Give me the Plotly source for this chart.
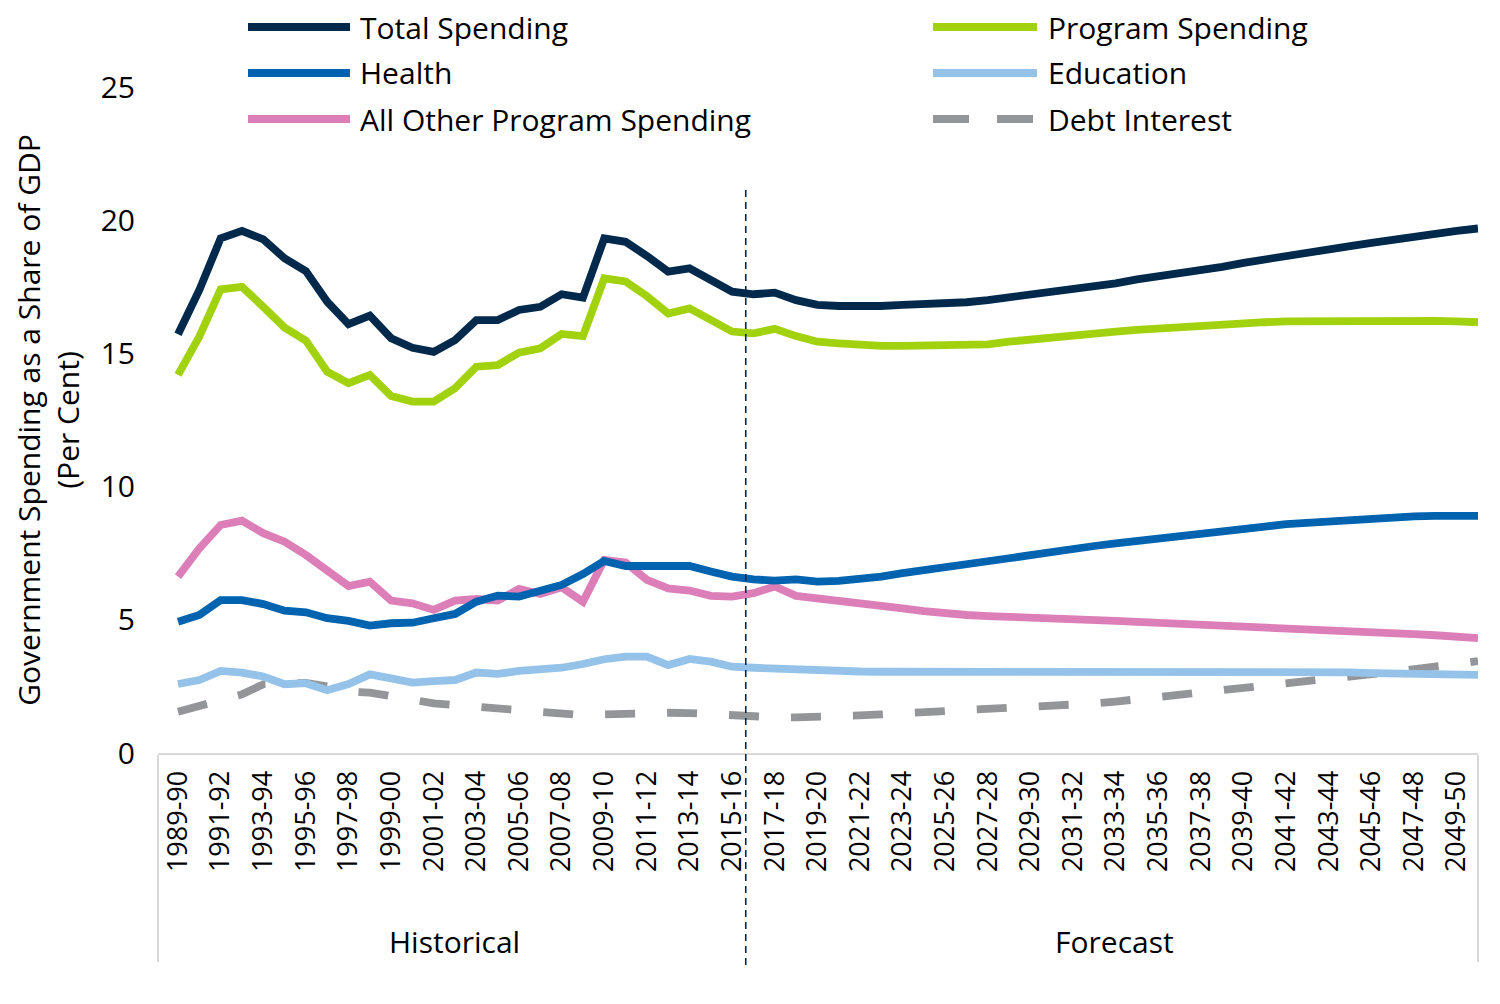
import plotly.graph_objects as go

years = [
    "1989-90", "1990-91", "1991-92", "1992-93", "1993-94", "1994-95", "1995-96", "1996-97",
    "1997-98", "1998-99", "1999-00", "2000-01", "2001-02", "2002-03", "2003-04", "2004-05",
    "2005-06", "2006-07", "2007-08", "2008-09", "2009-10", "2010-11", "2011-12", "2012-13",
    "2013-14", "2014-15", "2015-16", "2016-17", "2017-18", "2018-19", "2019-20", "2020-21",
    "2021-22", "2022-23", "2023-24", "2024-25", "2025-26", "2026-27", "2027-28", "2028-29",
    "2029-30", "2030-31", "2031-32", "2032-33", "2033-34", "2034-35", "2035-36", "2036-37",
    "2037-38", "2038-39", "2039-40", "2040-41", "2041-42", "2042-43", "2043-44", "2044-45",
    "2045-46", "2046-47", "2047-48", "2048-49", "2049-50", "2050-51",
]

total_spending = [
    15.72, 17.38, 19.32, 19.60, 19.28, 18.57, 18.09, 16.94, 16.10, 16.42,
    15.57, 15.21, 15.06, 15.50, 16.25, 16.25, 16.63, 16.75, 17.22, 17.09,
    19.32, 19.19, 18.66, 18.07, 18.19, 17.78, 17.32, 17.22, 17.28, 17.00,
    16.82, 16.78, 16.75, 16.78, 16.82, 16.84, 16.88, 16.92, 17.00, 17.10,
    17.22, 17.34, 17.44, 17.53, 17.63, 17.78, 17.88, 18.00, 18.13, 18.25,
    18.40, 18.54, 18.66, 18.80, 18.91, 19.03, 19.15, 19.28, 19.40, 19.50,
    19.60, 19.69,
]
program_spending = [
    14.19, 15.63, 17.40, 17.50, 16.75, 15.97, 15.48, 14.31, 13.88, 14.19,
    13.40, 13.19, 13.19, 13.69, 14.50, 14.56, 15.03, 15.19, 15.73, 15.65,
    17.82, 17.70, 17.15, 16.50, 16.69, 16.28, 15.82, 15.75, 15.92, 15.65,
    15.44, 15.38, 15.32, 15.28, 15.28, 15.28, 15.28, 15.28, 15.34, 15.44,
    15.53, 15.60, 15.68, 15.75, 15.82, 15.88, 15.94, 16.00, 16.04, 16.09,
    16.13, 16.17, 16.20, 16.21, 16.22, 16.22, 16.22, 16.22, 16.22, 16.22,
    16.20, 16.17,
]
health = [
    4.93, 5.18, 5.74, 5.74, 5.59, 5.34, 5.28, 5.06, 4.96, 4.78,
    4.87, 4.89, 5.06, 5.22, 5.68, 5.91, 5.87, 6.12, 6.31, 6.72,
    7.21, 7.02, 7.02, 6.97, 7.02, 6.81, 6.62, 6.52, 6.47, 6.52,
    6.43, 6.46, 6.52, 6.62, 6.75, 6.85, 6.96, 7.08, 7.18, 7.31,
    7.43, 7.56, 7.66, 7.77, 7.87, 7.97, 8.06, 8.16, 8.25, 8.31,
    8.41, 8.50, 8.59, 8.65, 8.71, 8.75, 8.80, 8.85, 8.88, 8.90,
    8.92, 8.90,
]
education = [
    2.59, 2.74, 3.08, 3.02, 2.87, 2.58, 2.62, 2.36, 2.59, 2.95,
    2.80, 2.64, 2.70, 2.74, 3.02, 2.97, 3.08, 3.12, 3.20, 3.34,
    3.52, 3.62, 3.62, 3.30, 3.53, 3.43, 3.24, 3.20, 3.16, 3.15,
    3.12, 3.08, 3.06, 3.05, 3.05, 3.05, 3.05, 3.05, 3.05, 3.06,
    3.07, 3.08, 3.08, 3.08, 3.08, 3.08, 3.09, 3.09, 3.08, 3.08,
    3.08, 3.07, 3.06, 3.05, 3.04, 3.03, 3.00, 2.98, 2.97, 2.95,
    2.94, 2.93,
]
all_other = [
    6.62, 7.68, 8.56, 8.72, 8.25, 7.93, 7.43, 6.85, 6.27, 6.43,
    5.72, 5.62, 5.37, 5.72, 5.78, 5.72, 6.16, 5.97, 6.22, 5.68,
    7.25, 7.15, 6.50, 6.18, 6.10, 5.90, 5.87, 6.00, 6.25, 5.90,
    5.81, 5.74, 5.68, 5.56, 5.43, 5.33, 5.24, 5.18, 5.14, 5.12,
    5.08, 5.06, 5.02, 4.99, 4.96, 4.92, 4.89, 4.86, 4.83, 4.79,
    4.77, 4.73, 4.68, 4.66, 4.62, 4.59, 4.56, 4.49, 4.46, 4.42,
    4.37, 4.31,
]
debt_interest = [
    1.55, 1.76, 1.95, 2.20, 2.58, 2.64, 2.63, 2.50, 2.30, 2.27,
    2.10, 2.00, 1.86, 1.80, 1.72, 1.64, 1.56, 1.50, 1.46, 1.42,
    1.45, 1.49, 1.51, 1.51, 1.50, 1.45, 1.42, 1.38, 1.34, 1.34,
    1.34, 1.36, 1.41, 1.45, 1.49, 1.53, 1.55, 1.58, 1.61, 1.65,
    1.69, 1.74, 1.80, 1.86, 1.93, 2.01, 2.09, 2.18, 2.27, 2.34,
    2.43, 2.55, 2.62, 2.68, 2.77, 2.85, 2.96, 3.05, 3.13, 3.23,
    3.34, 3.45,
]

tick_labels = years[::2]
y_ticks = [0, 5, 10, 15, 20, 25]
period_labels = ["Historical", "Forecast"]

FONT = "Open Sans"
C_TOTAL = "#00294B"
C_PROG = "#A2D20E"
C_HEALTH = "#0063B0"
C_EDU = "#95C2E8"
C_OTHER = "#DC7EB7"
C_DEBT = "#939598"
LW = 7.8

series = [
    ("Total Spending", total_spending, C_TOTAL, "solid"),
    ("Program Spending", program_spending, C_PROG, "solid"),
    ("Health", health, C_HEALTH, "solid"),
    ("Education", education, C_EDU, "solid"),
    ("All Other Program Spending", all_other, C_OTHER, "solid"),
    ("Debt Interest", debt_interest, C_DEBT, "30px,32px"),
]

fig = go.Figure()
draw_order = [5, 3, 4, 2, 1, 0]
for k in draw_order:
    name, vals, col, dash = series[k]
    fig.add_trace(go.Scatter(
        x=years, y=vals, mode="lines", name=name,
        line=dict(color=col, width=LW, dash=dash),
        showlegend=False, hoverinfo="skip",
    ))

# page has an 8px body margin; margins compensate so the plot lands where the reference has it
W, H = 1500, 1004
OFF = 8
L, T = 158 - OFF, 87 - OFF
R = W - (1478 - OFF)
B = H - (753 - OFF)
pw, ph = 1320, 666

def px(xref_pix):
    return (xref_pix - 158) / pw

def py(yref_pix):
    return (753 - yref_pix) / ph

shapes = []
annotations = []

shapes.append(dict(type="line", xref="paper", yref="paper", x0=0, x1=0, y0=py(755), y1=py(962),
                   line=dict(color="#D9D9D9", width=2)))
shapes.append(dict(type="line", xref="paper", yref="paper", x0=1, x1=1, y0=py(755), y1=py(962),
                   line=dict(color="#D9D9D9", width=2)))
shapes.append(dict(type="line", xref="x", yref="paper", x0=26.64, x1=26.64, y0=py(965), y1=py(190),
                   line=dict(color=C_TOTAL, width=1.6, dash="7px,5px")))

TXT = 30
annotations.append(dict(text=period_labels[0], xref="x", yref="paper", x=12.99, y=py(941),
                        showarrow=False, xanchor="center", yanchor="middle",
                        font=dict(family=FONT, size=TXT, color="#000000")))
annotations.append(dict(text=period_labels[1], xref="x", yref="paper", x=43.95, y=py(941),
                        showarrow=False, xanchor="center", yanchor="middle",
                        font=dict(family=FONT, size=TXT, color="#000000")))

legend_pos = [
    (0, 248, 350, 358, 27), (1, 933, 1037, 1046, 27),
    (2, 248, 350, 358, 73), (3, 933, 1037, 1046, 73),
    (4, 248, 350, 358, 119), (5, 933, 1037, 1046, 119),
]
for k, x0, x1, xt, yrow in legend_pos:
    name, vals, col, dash = series[k]
    shapes.append(dict(type="line", xref="paper", yref="paper", x0=px(x0), x1=px(x1),
                       y0=py(yrow), y1=py(yrow),
                       line=dict(color=col, width=8, dash="solid" if dash == "solid" else "36px,28px")))
    annotations.append(dict(text=name, xref="paper", yref="paper", x=px(xt), y=py(yrow),
                            showarrow=False, xanchor="left", yanchor="middle",
                            font=dict(family=FONT, size=TXT, color="#000000")))

fig.update_layout(
    width=W, height=H,
    margin=dict(l=L, r=R, t=T, b=B, autoexpand=False),
    paper_bgcolor="white", plot_bgcolor="white",
    font=dict(family=FONT, size=TXT, color="#000000"),
    shapes=shapes, annotations=annotations,
    showlegend=False,
)
fig.update_xaxes(
    type="category", categoryorder="array", categoryarray=years,
    range=[-0.94, 61], tickmode="array", tickvals=tick_labels, ticktext=tick_labels,
    tickangle=-90, tickfont=dict(family=FONT, size=27, color="#000000"),
    showgrid=False, zeroline=False, showline=True, linecolor="#D9D9D9", linewidth=2,
    ticks="", ticklabelstandoff=5,
)
fig.update_yaxes(
    range=[0, 25], tickmode="array", tickvals=y_ticks,
    tickfont=dict(family=FONT, size=30, color="#000000"),
    showgrid=False, zeroline=False, showline=False, ticks="",
    ticklabelstandoff=22,
    title=dict(text="Government Spending as a Share of GDP<br>(Per Cent)",
               font=dict(family=FONT, size=TXT, color="#000000"), standoff=12),
)

fig.write_html("out.html")
